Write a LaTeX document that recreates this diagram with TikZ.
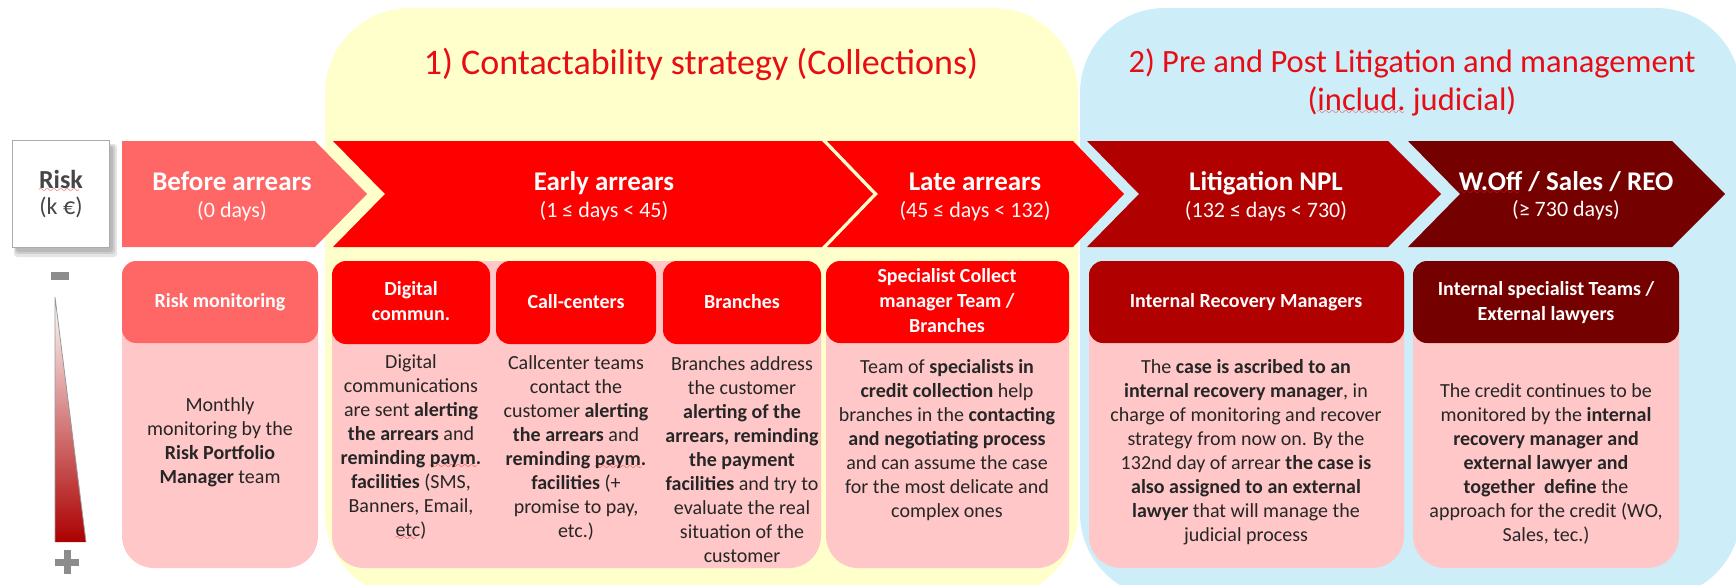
\documentclass[tikz,border=0pt]{standalone}
\usepackage{fontspec}
\setmainfont{Carlito}
\definecolor{yel}{RGB}{255,255,204}
\definecolor{blu}{RGB}{205,237,249}
\definecolor{salmon}{RGB}{255,102,102}
\definecolor{brightred}{RGB}{255,0,0}
\definecolor{midred}{RGB}{176,0,0}
\definecolor{darkred}{RGB}{117,0,0}
\definecolor{pinkb}{RGB}{255,199,199}
\definecolor{titlered}{RGB}{232,12,20}
\definecolor{wavered}{RGB}{235,30,30}
\definecolor{bodyink}{RGB}{38,38,38}
\definecolor{riskink}{RGB}{70,70,70}
\font\wavefont=lasy10
\newsavebox\sqbox
\newcommand\sq[1]{\sbox\sqbox{#1}\rlap{\lower4pt\hbox to\wd\sqbox{\color{wavered}\leaders\hbox{\wavefont\char58}\hfill}}\usebox\sqbox}
\tikzset{
  region/.style={rounded corners=85pt},
  hdr/.style={rounded corners=14pt},
  bodybox/.style={fill=pinkb, rounded corners=32pt},
  chevtitle/.style={text=white, font=\fontsize{27}{30}\selectfont\bfseries, anchor=base, inner sep=0pt},
  chevsub/.style={text=white!94!pink, font=\fontsize{22}{26}\selectfont, anchor=base, inner sep=0pt},
  hdrtext/.style={text=white, font=\fontsize{20}{25}\selectfont\bfseries, align=center, inner sep=0pt},
  bodytext/.style={text=bodyink, font=\fontsize{20}{24}\selectfont, align=center, inner sep=0pt},
  titletext/.style={text=titlered, font=\fontsize{36}{38}\selectfont, anchor=base, inner sep=0pt},
  shadowlayer/.style={fill=black, opacity=0.10, rounded corners=3pt},
}
\begin{document}
\begin{tikzpicture}[x=1pt,y=-1pt]
\useasboundingbox (0,0) rectangle (1736,584);
% background regions
\fill[yel, region] (325,8) rectangle (1078,598);
\fill[blu, region] (1080,8) rectangle (1741,598);
% titles
\node[titletext] (t1) at (701,74) {1) Contactability strategy (Collections)};
\node[titletext, font=\fontsize{32.5}{36}\selectfont] (t2a) at (1412,72) {2) Pre and Post Litigation and management};
\node[titletext, font=\fontsize{32.5}{36}\selectfont] (t2b) at (1412,110) {(\sq{includ.} judicial)};
% risk box with soft shadow
\fill[shadowlayer] (14,144) rectangle (117,257);
\fill[shadowlayer] (15,145) rectangle (115,254);
\fill[shadowlayer] (16,146) rectangle (113,252);
\node[draw=black!33, line width=1.6pt, fill=white, minimum width=97pt, minimum height=107pt,
      text=riskink, align=center, font=\fontsize{24}{26}\selectfont] (risk) at (61,194)
      {{\fontsize{26}{26}\selectfont\bfseries\sq{Risk}}\\(k €)};
% chevrons
\fill[salmon] (122,141) -- (315,141) -- (367,194) -- (315,247) -- (122,247) -- cycle;
\fill[brightred] (333,141) -- (822,141) -- (873,194) -- (822,247) -- (333,247) -- (385,194) -- cycle;
\fill[brightred] (827,141) -- (1073,141) -- (1124,194) -- (1073,247) -- (827,247) -- (878,194) -- cycle;
\fill[midred] (1087,141) -- (1388,141) -- (1441,194) -- (1388,247) -- (1087,247) -- (1139,194) -- cycle;
\fill[darkred] (1408,141) -- (1672,141) -- (1725,194) -- (1672,247) -- (1408,247) -- (1460,194) -- cycle;
\node[chevtitle] (c1t) at (232,190) {Before arrears};
\node[chevsub] (c1s) at (232,217) {(0 days)};
\node[chevtitle] (c2t) at (604,190) {Early arrears};
\node[chevsub] (c2s) at (604,217) {(1 ≤ days < 45)};
\node[chevtitle] (c3t) at (975,190) {Late arrears};
\node[chevsub] (c3s) at (975,217) {(45 ≤ days < 132)};
\node[chevtitle] (c4t) at (1266,190) {Litigation NPL};
\node[chevsub] (c4s) at (1266,217) {(132 ≤ days < 730)};
\node[chevtitle] (c5t) at (1566,190) {\sq{W.Off} / Sales / REO};
\node[chevsub] (c5s) at (1566,216) {(≥ 730 days)};
% risk gradient scale
\shade[top color=white, middle color={rgb,255:red,225;green,140;blue,140}, bottom color={rgb,255:red,172;green,0;blue,0}]
  (55,297) -- (86,542) -- (55,542) -- cycle;
\draw[black!40, line width=0.8pt] (55,542) -- (55,297) -- (86,542);
\fill[black!45] (51,272) rectangle (69,280);
\fill[black!45] (55,558.5) rectangle (79,565.5);
\fill[black!45] (63.5,550) rectangle (70.5,574);
% bodies
\fill[bodybox] (122,261) rectangle (318,568);
\fill[bodybox] (332,261) rectangle (821,568);
\fill[bodybox] (826,261) rectangle (1069,568);
\fill[bodybox] (1089,261) rectangle (1404,568);
\fill[bodybox] (1413,261) rectangle (1679,568);
% headers
\fill[salmon, hdr] (122,261) rectangle (318,343);
\fill[brightred, hdr] (332,261) rectangle (490,344);
\fill[brightred, hdr] (496,261) rectangle (656,344);
\fill[brightred, hdr] (663,261) rectangle (821,344);
\fill[brightred, hdr] (826,261) rectangle (1069,343);
\fill[midred, hdr] (1089,261) rectangle (1404,343);
\fill[darkred, hdr] (1413,261) rectangle (1679,343);
\node[hdrtext] (h1) at (220,302) {Risk monitoring};
\node[hdrtext] (h2) at (411,303) {Digital\\\sq{commun.}};
\node[hdrtext] (h3) at (576,302) {Call-centers};
\node[hdrtext] (h4) at (742,302) {Branches};
\node[hdrtext] (h5) at (947,301) {Specialist Collect\\manager Team /\\Branches};
\node[hdrtext] (h6) at (1246,302) {Internal Recovery Managers};
\node[hdrtext] (h7) at (1546,303) {Internal specialist Teams /\\External lawyers};
% body texts
\node[bodytext] (b1) at (220,442) {Monthly\\monitoring by the\\\textbf{Risk Portfolio}\\\textbf{Manager} team};
\node[bodytext] (b2) at (411,448) {Digital\\communications\\are sent \textbf{alerting}\\\textbf{the arrears} and\\\textbf{reminding \sq{paym.}}\\\textbf{facilities} (SMS,\\Banners, Email,\\\sq{etc})};
\node[bodytext] (b3) at (576,448) {Callcenter teams\\contact the\\customer \textbf{alerting}\\\textbf{the arrears} and\\\textbf{reminding \sq{paym.}}\\\textbf{facilities} (+\\promise to pay,\\etc.)};
\node[bodytext] (b4) at (742,460) {Branches address\\the customer\\\textbf{alerting of the}\\\textbf{arrears, reminding}\\\textbf{the payment}\\\textbf{facilities} and try to\\evaluate the real\\situation of the\\customer};
\node[bodytext] (b5) at (947,440) {Team of \textbf{specialists in}\\\textbf{credit collection} help\\branches in the \textbf{contacting}\\\textbf{and negotiating process}\\and can assume the case\\for the most delicate and\\complex ones};
\node[bodytext] (b6) at (1246,452) {The \textbf{case is ascribed to an}\\\textbf{internal recovery manager}, in\\charge of monitoring and recover\\strategy from now on. By the\\132nd day of arrear \textbf{the case is}\\\textbf{also assigned to an external}\\\textbf{lawyer} that will manage the\\judicial process};
\node[bodytext] (b7) at (1546,464) {The credit continues to be\\monitored by the \textbf{internal}\\\textbf{recovery manager and}\\\textbf{external lawyer and}\\\textbf{together\ \ define} the\\approach for the credit (WO,\\Sales, tec.)};
\end{tikzpicture}
\end{document}
